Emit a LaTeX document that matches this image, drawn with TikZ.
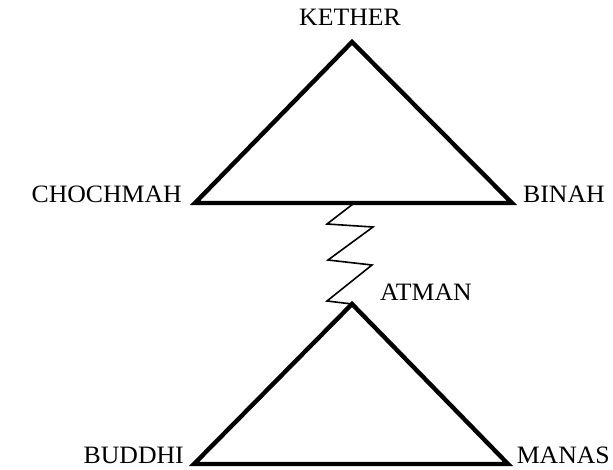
\documentclass[tikz,border=0pt]{standalone}
\usepackage{fontspec}
\setmainfont{Liberation Serif}[FakeStretch=1.03]
\begin{document}
\begin{tikzpicture}[x=1pt,y=-1pt,
  tri/.style={line width=4.4pt,line join=miter},
  zig/.style={line width=1.6pt,line join=miter},
  lbl/.style={inner sep=0pt,font=\fontsize{25}{28}\selectfont}]
\useasboundingbox (0,0) rectangle (613,469);
% upper triangle
\coordinate (kether) at (352,42);
\coordinate (chochmah) at (195,203);
\coordinate (binah) at (512,203);
% lower triangle
\coordinate (atman) at (352,304);
\coordinate (buddhi) at (194,464);
\coordinate (manas) at (508,464);
\draw[tri] (kether) -- (binah) -- (chochmah) -- cycle;
\draw[tri] (atman) -- (manas) -- (buddhi) -- cycle;
% zigzag
\coordinate (z0) at (353,204);
\coordinate (z1) at (327,224);
\coordinate (z2) at (373,227);
\coordinate (z3) at (328,260);
\coordinate (z4) at (372,265);
\coordinate (z5) at (327,301);
\draw[zig] (z0) -- (z1) -- (z2) -- (z3) -- (z4) -- (z5) -- (atman);
% labels
\node[lbl,anchor=base] (tk) at (350,25) {KETHER};
\node[lbl,anchor=base east] (tc) at (182,202) {CHOCHMAH};
\node[lbl,anchor=base west] (tb) at (523,202) {BINAH};
\node[lbl,anchor=base west] (ta) at (380,300) {ATMAN};
\node[lbl,anchor=base east] (tbu) at (184,463) {BUDDHI};
\node[lbl,anchor=base east] (tm) at (610,463) {MANAS};
\end{tikzpicture}
\end{document}
